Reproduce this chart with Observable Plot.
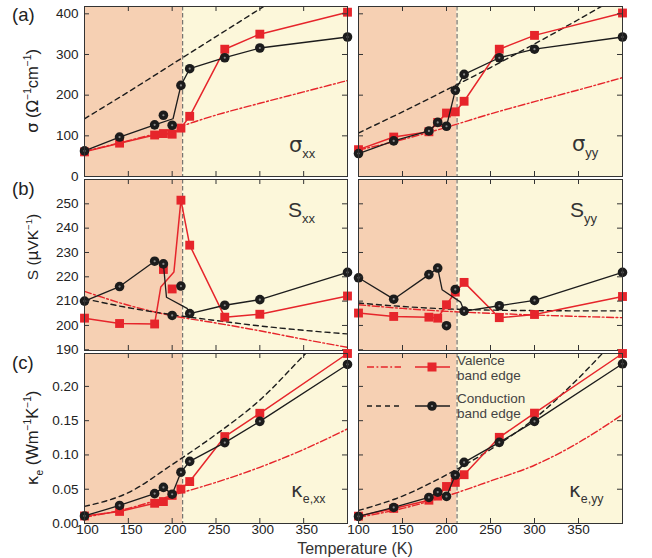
<!DOCTYPE html>
<html><head><meta charset="utf-8">
<script src="https://cdn.jsdelivr.net/npm/d3@7"></script>
<script src="https://cdn.jsdelivr.net/npm/@observablehq/plot@0.6"></script>
<style>
body{margin:0;background:#fff;}
#fig{position:relative;width:652px;height:558px;overflow:hidden;font-family:"Liberation Sans",Arial,sans-serif;}
#fig svg{overflow:visible;}
</style></head><body><div id="fig"></div>
<script>
// ---------------- data ----------------
const T = [100, 140, 180, 190, 200, 210, 220, 260, 300, 400];
const gridT = [100, 150, 200, 250, 300, 350, 400];
const transitionT = 212;
const xTicks = [150, 200, 250, 300, 350];
const xTickLabels = [100, 150, 200, 250, 300, 350];
const sigTicks = [0, 100, 200, 300, 400];
const sTicks = [190, 200, 210, 220, 230, 240, 250];
const kTicks = [0, 0.05, 0.10, 0.15, 0.20];

// (a) sigma_xx
const sigXX_val = [60.5, 82, 102, 105.6, 104, 119, 148, 313, 350, 404];
const sigXX_con = [63, 97, 127, 150.6, 126, 224, 265, 292, 316, 343];
const sigXX_conLineT = [100, 140, 180, 201, 210, 220, 260, 300, 400];
const sigXX_conLineV = [63, 97, 127, 142, 224, 265, 292, 316, 343];
const sigXX_valEdge = [62, 88, 117, 151, 180, 208, 236];
const sigXX_conEdge = [142, 208, 276, 344, 412, 480, 548];
// (a) sigma_yy
const sigYY_val = [66, 97, 110, 133, 156, 159, 185, 313, 347, 402];
const sigYY_con = [56.5, 87.5, 112, 133, 123.6, 212, 251, 292, 313, 343];
const sigYY_valEdge = [65, 91, 121, 154, 184, 213, 243];
const sigYY_conEdge = [107, 159, 213, 268, 326, 386, 448];
// (b) S_xx
const sXX_val = [203, 200.8, 200.6, 223, 215, 251.5, 233, 203.4, 204.6, 212.1];
const sXX_valLineT = [100, 140, 180, 187, 202, 210, 220, 260, 300, 400];
const sXX_valLineV = [203, 200.8, 200.6, 215.8, 222, 251.5, 233, 203.4, 204.6, 212.1];
const sXX_con = [210, 216, 226.4, 225.3, 204.1, 216.2, 204.9, 208.3, 210.6, 221.8];
const sXX_conLineT = [100, 140, 180, 190, 193.5, 217, 220, 260, 300, 400];
const sXX_conLineV = [210, 216, 226.4, 225.3, 211.6, 207, 204.9, 208.3, 210.6, 221.8];
const sXX_valEdge = [214, 208.3, 204, 201, 197.8, 194.3, 191];
const sXX_conEdge = [211, 207.3, 204.4, 202, 199.8, 198, 196.5];
// (b) S_yy
const sYY_val = [205.1, 203.7, 203.4, 203, 208.5, 213.7, 217.7, 203.2, 204.5, 211.9];
const sYY_con = [219.6, 210.8, 220.9, 223.6, 199.9, 214.8, 205.9, 208.1, 210.3, 221.8];
const sYY_conLineT = [100, 140, 180, 190, 195, 216, 220, 260, 300, 400];
const sYY_conLineV = [219.6, 210.8, 220.9, 223.6, 214.7, 209.6, 205.9, 208.1, 210.3, 221.8];
const sYY_valEdge = [208.5, 207, 205.8, 205, 204.3, 203.7, 203.2];
const sYY_conEdge = [209.2, 207.8, 206.8, 206.3, 206.1, 206, 206];
// (c) kappa_e,xx
const kXX_val = [0.011, 0.0176, 0.0295, 0.032, 0.041, 0.0502, 0.0612, 0.1268, 0.1608, 0.248];
const kXX_con = [0.011, 0.0263, 0.0436, 0.0527, 0.0427, 0.0748, 0.0906, 0.118, 0.149, 0.232];
const kXX_valEdge = [0.009, 0.022, 0.041, 0.06, 0.082, 0.108, 0.138];
const kXX_conEdge = [0.025, 0.045, 0.086, 0.13, 0.18, 0.245, 0.31];
// (c) kappa_e,yy
const kYY_val = [0.0107, 0.022, 0.034, 0.040, 0.054, 0.060, 0.0712, 0.1257, 0.161, 0.248];
const kYY_con = [0.0103, 0.0234, 0.038, 0.0458, 0.0395, 0.0707, 0.0892, 0.1184, 0.149, 0.233];
const kYY_valEdge = [0.009, 0.022, 0.04, 0.062, 0.085, 0.118, 0.159];
const kYY_conEdge = [0.019, 0.040, 0.071, 0.108, 0.153, 0.212, 0.28];

const legendLabels = [["Valence", "band edge"], ["Conduction", "band edge"]];

// ---------------- style ----------------
const RED = "#e6252b", BLACK = "#1c1c1c", PEACH = "#f6d0b3", YELLOW = "#fcf7da";
const regions = [{from: 100, to: transitionT, color: PEACH}, {from: transitionT, to: 400, color: YELLOW}];
const zip = (xs, ys) => xs.map((x, i) => ({x, y: ys[i]}));

const fig = document.getElementById("fig");

function panel(o) {
  const {x0, y0, w, h, yDomain, yTicks, showY, showX, yFmt} = o;
  const inner = yTicks.filter(v => v > yDomain[0] + 1e-9 && v < yDomain[1] - 1e-9);
  const marks = [
    Plot.rect(regions, {x1: "from", x2: "to", y1: () => yDomain[0], y2: () => yDomain[1], fill: "color"}),
    Plot.ruleX([transitionT], {stroke: "#5a5a5a", strokeWidth: 1, strokeDasharray: "4.5,2.5"}),
    Plot.line(zip(gridT, o.valEdge), {x: "x", y: "y", stroke: RED, strokeWidth: 1.4, strokeDasharray: "7,2.5,1.8,2.5", curve: "monotone-x", clip: true}),
    Plot.line(zip(gridT, o.conEdge), {x: "x", y: "y", stroke: BLACK, strokeWidth: 1.4, strokeDasharray: "5,4", curve: "monotone-x", clip: true}),
    Plot.line(o.valLine, {x: "x", y: "y", stroke: RED, strokeWidth: 1.5}),
    Plot.dot(o.valPts, {x: "x", y: "y", symbol: "square", r: 5, fill: RED}),
    Plot.line(o.conLine, {x: "x", y: "y", stroke: BLACK, strokeWidth: 1.3}),
    Plot.dot(o.conPts, {x: "x", y: "y", r: 4.8, fill: BLACK}),
    Plot.dot(o.conPts, {x: "x", y: "y", r: 1.1, fill: "#8a8a8a"}),
    Plot.tickX(xTicks, {x: d => d, insetTop: h - 5, stroke: "#333"}),
    Plot.tickX(xTicks, {x: d => d, insetBottom: h - 5, stroke: "#333"}),
    Plot.tickY(inner, {y: d => d, insetRight: w - 5, stroke: "#333"}),
    Plot.tickY(inner, {y: d => d, insetLeft: w - 5, stroke: "#333"}),
    Plot.frame({stroke: "#333", strokeWidth: 1})
  ];
  if (showY) marks.push(Plot.axisY(yTicks, {tickSize: 0, tickPadding: 6, tickFormat: yFmt, label: null, fontSize: 13.5}));
  if (showX) marks.push(Plot.axisX(xTickLabels, {tickSize: 0, tickPadding: 1, label: null, fontSize: 13.5, dx: o.xdx || 0}));
  const svg = Plot.plot({
    width: w, height: h,
    marginLeft: 0, marginRight: 0, marginTop: 0, marginBottom: 0,
    x: showX ? {domain: [100, 400]} : {domain: [100, 400], axis: null},
    y: showY ? {domain: yDomain} : {domain: yDomain, axis: null},
    color: {type: "identity"},
    style: {overflow: "visible", background: "transparent", color: "#222", fontFamily: "Liberation Sans, Arial, sans-serif", fontSize: "13.5px"},
    marks
  });
  svg.style.position = "absolute";
  svg.style.left = x0 + "px";
  svg.style.top = y0 + "px";
  fig.appendChild(svg);
}

const L = {x0: 84, w: 263}, R = {x0: 358, w: 264};
const A = {y0: 6, h: 170, yDomain: [0, 418], yTicks: sigTicks, yFmt: d3.format("d")};
const B = {y0: 179, h: 171, yDomain: [189.7, 260], yTicks: sTicks, yFmt: d3.format("d")};
const C = {y0: 353, h: 170, yDomain: [0, 0.248], yTicks: kTicks, yFmt: d3.format(".2f")};

panel({...L, ...A, showY: true, valPts: zip(T, sigXX_val), valLine: zip(T, sigXX_val), conPts: zip(T, sigXX_con), conLine: zip(sigXX_conLineT, sigXX_conLineV), valEdge: sigXX_valEdge, conEdge: sigXX_conEdge});
panel({...R, ...A, valPts: zip(T, sigYY_val), valLine: zip(T, sigYY_val), conPts: zip(T, sigYY_con), conLine: zip(T, sigYY_con), valEdge: sigYY_valEdge, conEdge: sigYY_conEdge});
panel({...L, ...B, showY: true, valPts: zip(T, sXX_val), valLine: zip(sXX_valLineT, sXX_valLineV), conPts: zip(T, sXX_con), conLine: zip(sXX_conLineT, sXX_conLineV), valEdge: sXX_valEdge, conEdge: sXX_conEdge});
panel({...R, ...B, valPts: zip(T, sYY_val), valLine: zip(T, sYY_val), conPts: zip(T, sYY_con), conLine: zip(sYY_conLineT, sYY_conLineV), valEdge: sYY_valEdge, conEdge: sYY_conEdge});
panel({...L, ...C, showY: true, showX: true, xdx: 3, valPts: zip(T, kXX_val), valLine: zip(T, kXX_val), conPts: zip(T, kXX_con), conLine: zip(T, kXX_con), valEdge: kXX_valEdge, conEdge: kXX_conEdge});
panel({...R, ...C, showX: true, valPts: zip(T, kYY_val), valLine: zip(T, kYY_val), conPts: zip(T, kYY_con), conLine: zip(T, kYY_con), valEdge: kYY_valEdge, conEdge: kYY_conEdge});

// ---------------- overlay text & legend ----------------
const ov = d3.select(fig).append("svg")
  .attr("width", 652).attr("height", 558)
  .style("position", "absolute").style("left", "0px").style("top", "0px")
  .style("pointer-events", "none")
  .attr("font-family", "Liberation Sans, Arial, sans-serif");

function rich(x, y, segs, base, opts = {}) {
  const t = ov.append("text").attr("x", x).attr("y", y).attr("font-size", base)
    .attr("fill", opts.fill || "#333").attr("text-anchor", opts.anchor || "start");
  if (opts.rotate) t.attr("transform", `rotate(${opts.rotate},${x},${y})`);
  let cur = 0;
  segs.forEach(([str, kind, fam]) => {
    const target = kind === "sup" ? -0.4 * base : kind === "sub" ? 0.3 * base : 0;
    const sp = t.append("tspan").attr("dy", target - cur).attr("font-size", kind ? base * 0.62 : base).text(str);
    if (fam) sp.attr("font-family", fam);
    cur = target;
  });
  return t;
}
const GR = "DejaVu Sans";
// panel letters
rich(12, 21, [["(a)"]], 18.5, {fill: "#222"});
rich(12, 195, [["(b)"]], 18.5, {fill: "#222"});
rich(12, 369, [["(c)"]], 18.5, {fill: "#222"});
// axis titles
rich(38, 91, [["σ", null, GR], [" ("], ["Ω", null, GR], ["−1", "sup"], ["cm"], ["−1", "sup"], [")"]], 16.5, {rotate: -90, anchor: "middle", fill: "#222"});
rich(38, 247, [["S ("], ["μ", null, GR], ["VK"], ["−1", "sup"], [")"]], 15.5, {rotate: -90, anchor: "middle", fill: "#222"});
rich(38, 438, [["κ", null, GR], ["e", "sub"], [" (Wm"], ["−1", "sup"], ["K"], ["−1", "sup"], [")"]], 16.5, {rotate: -90, anchor: "middle", fill: "#222"});
rich(355, 554, [["Temperature (K)"]], 16, {anchor: "middle", fill: "#333"});
// in-panel labels
rich(289, 152, [["σ", null, GR], ["xx", "sub"]], 21, {fill: "#333"});
rich(572, 151, [["σ", null, GR], ["yy", "sub"]], 21, {fill: "#333"});
rich(288, 217, [["S"], ["xx", "sub"]], 21, {fill: "#333"});
rich(570, 217, [["S"], ["yy", "sub"]], 21, {fill: "#333"});
rich(291, 497, [["κ", null, GR], ["e,xx", "sub"]], 20, {fill: "#333"});
rich(569, 497, [["κ", null, GR], ["e,yy", "sub"]], 20, {fill: "#333"});

// legend
const lg = ov.append("g");
const legRows = [
  {y: 367, color: RED, dash: "7,2.5,1.8,2.5", shape: "square", text: legendLabels[0], ty: 365},
  {y: 406, color: BLACK, dash: "5,4", shape: "circle", text: legendLabels[1], ty: 402.5}
];
legRows.forEach(r => {
  lg.append("line").attr("x1", 367).attr("x2", 401).attr("y1", r.y).attr("y2", r.y)
    .attr("stroke", r.color).attr("stroke-width", 1.4).attr("stroke-dasharray", r.dash);
  lg.append("line").attr("x1", 415).attr("x2", 450).attr("y1", r.y).attr("y2", r.y)
    .attr("stroke", r.color).attr("stroke-width", 1.5);
  if (r.shape === "square") {
    lg.append("rect").attr("x", 432 - 4.5).attr("y", r.y - 4.5).attr("width", 9).attr("height", 9).attr("fill", r.color);
  } else {
    lg.append("circle").attr("cx", 432).attr("cy", r.y).attr("r", 4.8).attr("fill", r.color);
    lg.append("circle").attr("cx", 432).attr("cy", r.y).attr("r", 1.1).attr("fill", "#8a8a8a");
  }
  lg.append("text").attr("x", 457).attr("y", r.ty).attr("font-size", 13.5).attr("fill", "#444").text(r.text[0]);
  lg.append("text").attr("x", 457).attr("y", r.ty + 15.3).attr("font-size", 13.5).attr("fill", "#444").text(r.text[1]);
});
</script></body></html>
